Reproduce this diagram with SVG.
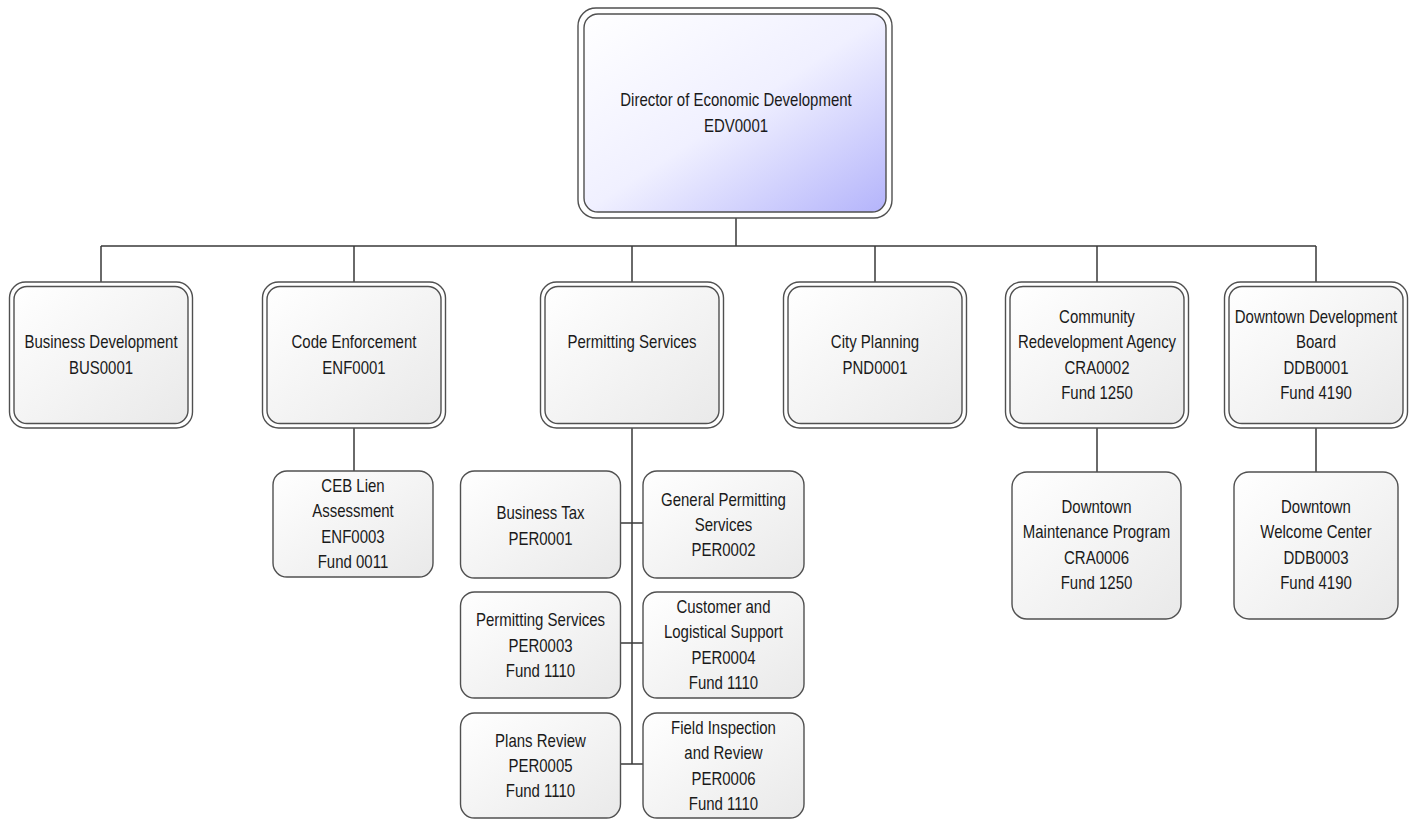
<svg xmlns="http://www.w3.org/2000/svg" width="1415" height="819" viewBox="0 0 1415 819">
<defs>
<linearGradient id="gTop" x1="0" y1="0" x2="1" y2="1">
<stop offset="0" stop-color="#ffffff"/>
<stop offset="0.5" stop-color="#f0f0ff"/>
<stop offset="1" stop-color="#b4b4fb"/>
</linearGradient>
<linearGradient id="gBox" x1="0" y1="0" x2="1" y2="1">
<stop offset="0" stop-color="#ffffff"/>
<stop offset="1" stop-color="#e9e9e9"/>
</linearGradient>
<style>
.o{fill:#ffffff;stroke:#505050;stroke-width:1.4}
.i{fill:url(#gBox);stroke:#505050;stroke-width:1.4}
.it{fill:url(#gTop);stroke:#505050;stroke-width:1.4}
.s{fill:url(#gBox);stroke:#505050;stroke-width:1.4}
.c{fill:none;stroke:#3a3a3a;stroke-width:1.5}
text{font-family:"Liberation Sans",Arial,sans-serif;font-size:15px;fill:#1a1a1a;text-anchor:middle;transform-box:fill-box;transform-origin:center;transform:scaleY(1.2)}
</style>
</defs>
<g id="connectors">
<path class="c" d="M736,218V246M101,246H1316M101,246V282M354,246V282M632,246V282M875,246V282M1097,246V282M1316,246V282"/>
<path class="c" d="M354,428V471M632,428V764M621,523H643M621,643H643M621,764H643M1097,428V472M1316,428V472"/>
</g>
<g id="n-director">
<rect class="o" x="578" y="8" width="314" height="210" rx="18"/>
<rect class="it" x="584" y="14" width="302" height="198" rx="14"/>
<text x="736" y="105">Director of Economic Development</text>
<text x="736" y="131">EDV0001</text>
</g>
<g id="n-bus">
<rect class="o" x="9.5" y="282" width="183" height="146" rx="16"/>
<rect class="i" x="14" y="286.5" width="174" height="137" rx="13"/>
<text x="101" y="347">Business Development</text>
<text x="101" y="373">BUS0001</text>
</g>
<g id="n-enf">
<rect class="o" x="262.5" y="282" width="183" height="146" rx="16"/>
<rect class="i" x="267" y="286.5" width="174" height="137" rx="13"/>
<text x="354" y="347">Code Enforcement</text>
<text x="354" y="373">ENF0001</text>
</g>
<g id="n-per">
<rect class="o" x="540.5" y="282" width="183" height="146" rx="16"/>
<rect class="i" x="545" y="286.5" width="174" height="137" rx="13"/>
<text x="632" y="347">Permitting Services</text>
</g>
<g id="n-pnd">
<rect class="o" x="783.5" y="282" width="183" height="146" rx="16"/>
<rect class="i" x="788" y="286.5" width="174" height="137" rx="13"/>
<text x="875" y="347">City Planning</text>
<text x="875" y="373">PND0001</text>
</g>
<g id="n-cra">
<rect class="o" x="1005.5" y="282" width="183" height="146" rx="16"/>
<rect class="i" x="1010" y="286.5" width="174" height="137" rx="13"/>
<text x="1097" y="322">Community</text>
<text x="1097" y="347.5">Redevelopment Agency</text>
<text x="1097" y="373">CRA0002</text>
<text x="1097" y="398.5">Fund 1250</text>
</g>
<g id="n-ddb">
<rect class="o" x="1224.5" y="282" width="183" height="146" rx="16"/>
<rect class="i" x="1229" y="286.5" width="174" height="137" rx="13"/>
<text x="1316" y="322">Downtown Development</text>
<text x="1316" y="347.5">Board</text>
<text x="1316" y="373">DDB0001</text>
<text x="1316" y="398.5">Fund 4190</text>
</g>
<g id="n-enf3">
<rect class="s" x="273" y="471" width="160" height="106" rx="14"/>
<text x="353" y="491">CEB Lien</text>
<text x="353" y="516.5">Assessment</text>
<text x="353" y="542">ENF0003</text>
<text x="353" y="567.5">Fund 0011</text>
</g>
<g id="n-per1">
<rect class="s" x="460.5" y="471" width="160" height="107" rx="14"/>
<text x="540.5" y="518">Business Tax</text>
<text x="540.5" y="544">PER0001</text>
</g>
<g id="n-per2">
<rect class="s" x="643" y="471" width="161" height="107" rx="14"/>
<text x="723.5" y="505">General Permitting</text>
<text x="723.5" y="530">Services</text>
<text x="723.5" y="555">PER0002</text>
</g>
<g id="n-per3">
<rect class="s" x="460.5" y="592" width="160" height="106" rx="14"/>
<text x="540.5" y="625.5">Permitting Services</text>
<text x="540.5" y="651">PER0003</text>
<text x="540.5" y="676">Fund 1110</text>
</g>
<g id="n-per4">
<rect class="s" x="643" y="592" width="161" height="106" rx="14"/>
<text x="723.5" y="612">Customer and</text>
<text x="723.5" y="637.5">Logistical Support</text>
<text x="723.5" y="663">PER0004</text>
<text x="723.5" y="688.5">Fund 1110</text>
</g>
<g id="n-per5">
<rect class="s" x="460.5" y="713" width="160" height="105" rx="14"/>
<text x="540.5" y="746.5">Plans Review</text>
<text x="540.5" y="771.5">PER0005</text>
<text x="540.5" y="796.5">Fund 1110</text>
</g>
<g id="n-per6">
<rect class="s" x="643" y="713" width="161" height="105" rx="14"/>
<text x="723.5" y="733.5">Field Inspection</text>
<text x="723.5" y="758.5">and Review</text>
<text x="723.5" y="784">PER0006</text>
<text x="723.5" y="809.5">Fund 1110</text>
</g>
<g id="n-cra6">
<rect class="s" x="1012" y="472" width="169" height="147" rx="15"/>
<text x="1096.5" y="512">Downtown</text>
<text x="1096.5" y="537.5">Maintenance Program</text>
<text x="1096.5" y="563">CRA0006</text>
<text x="1096.5" y="588.5">Fund 1250</text>
</g>
<g id="n-ddb3">
<rect class="s" x="1234" y="472" width="164" height="147" rx="15"/>
<text x="1316" y="512">Downtown</text>
<text x="1316" y="537.5">Welcome Center</text>
<text x="1316" y="563">DDB0003</text>
<text x="1316" y="588.5">Fund 4190</text>
</g>
</svg>
